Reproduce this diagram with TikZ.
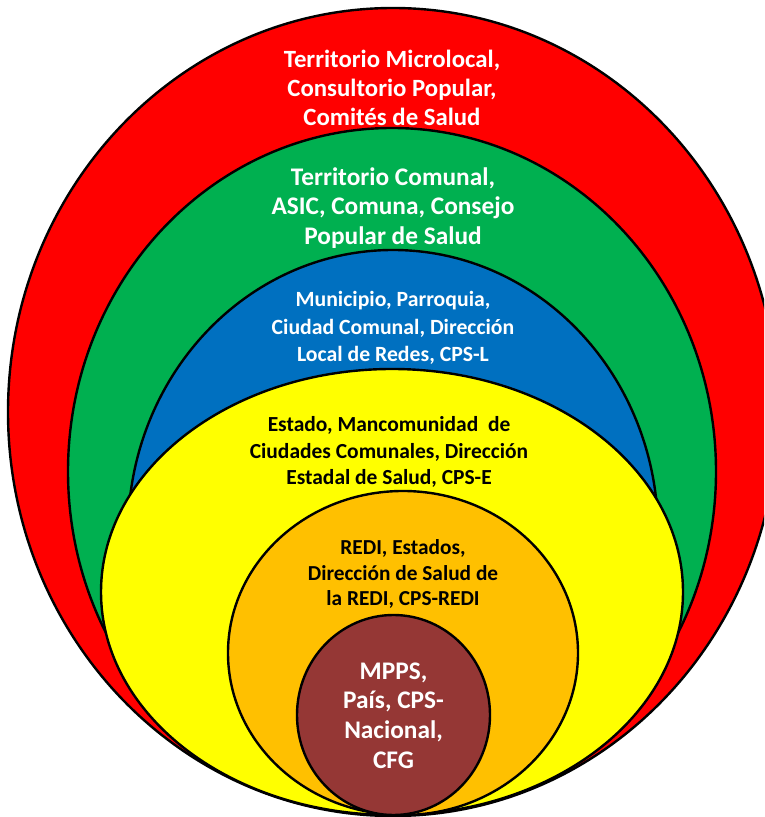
\documentclass[tikz,border=0pt]{standalone}
\usepackage{fontspec}
\setmainfont{Carlito}
\definecolor{cred}{HTML}{FF0000}
\definecolor{cgreen}{HTML}{00B050}
\definecolor{cblue}{HTML}{0070C0}
\definecolor{cyellow}{HTML}{FFFF00}
\definecolor{corange}{HTML}{FFC000}
\definecolor{cbrown}{HTML}{953735}
\begin{document}
\begin{tikzpicture}[x=0.75pt,y=0.75pt,
  ring/.style={draw=black,line width=1.8pt},
  lbl/.style={align=center,font=\bfseries,inner sep=0pt}]
\useasboundingbox (0,0) rectangle (764,817);
\clip (0,0) rectangle (764,817);
\fill[white] (0,0) rectangle (764,817);
\filldraw[ring,fill=cred] (393,405) ellipse [x radius=385, y radius=404];
\filldraw[ring,fill=cgreen] (392,345.5) ellipse [x radius=324, y radius=343.5];
\filldraw[ring,fill=cblue] (393,284.5) ellipse [x radius=265, y radius=282.5];
\filldraw[ring,fill=cyellow] (392,225) ellipse [x radius=291, y radius=223];
\filldraw[ring,fill=corange] (403,164) ellipse [x radius=175, y radius=162];
\filldraw[ring,fill=cbrown] (393.5,102) ellipse [x radius=96.5, y radius=100];
\node[lbl,text=white,font=\bfseries\fontsize{18.6}{22}\selectfont] (t1) at (392,729) {Territorio Microlocal,\\Consultorio Popular,\\Comités de Salud};
\node[lbl,text=white,font=\bfseries\fontsize{19}{22}\selectfont] (t2) at (393,609) {Territorio Comunal,\\ASIC, Comuna, Consejo\\Popular de Salud};
\node[lbl,text=white,font=\bfseries\fontsize{16.3}{20.6}\selectfont] (t3) at (393,489) {Municipio, Parroquia,\\Ciudad Comunal, Dirección\\Local de Redes, CPS-L};
\node[lbl,text=black,font=\bfseries\fontsize{16.1}{20}\selectfont] (t4) at (389,365) {Estado, Mancomunidad\ \ de\\Ciudades Comunales, Dirección\\Estadal de Salud, CPS-E};
\node[lbl,text=black,font=\bfseries\fontsize{16}{19}\selectfont] (t5) at (403,243) {REDI, Estados,\\Dirección de Salud de\\la REDI, CPS-REDI};
\node[lbl,text=white,font=\bfseries\fontsize{19}{22.3}\selectfont] (t6) at (393.5,101.5) {MPPS,\\País, CPS-\\Nacional,\\CFG};
\end{tikzpicture}
\end{document}
